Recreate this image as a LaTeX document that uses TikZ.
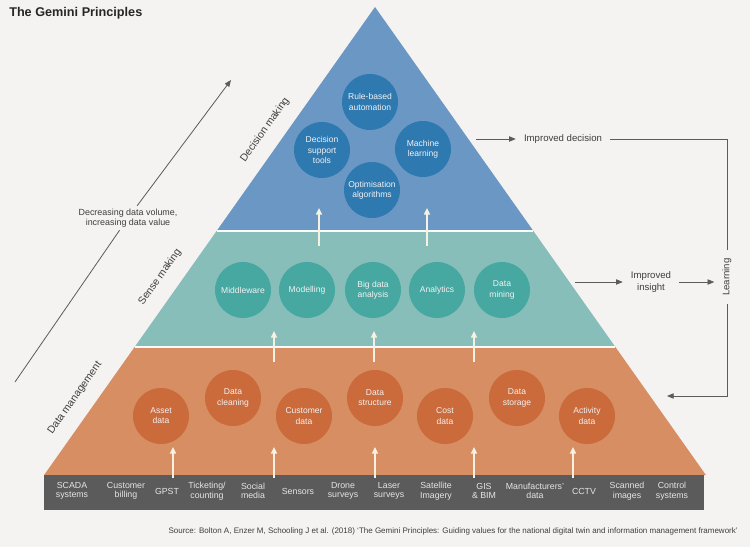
\documentclass[tikz,border=0pt]{standalone}
\usepackage{fontspec}
\setmainfont{Liberation Sans}
\usetikzlibrary{arrows.meta}

\definecolor{sfondo}{HTML}{F4F3F1}
\definecolor{blu}{HTML}{6B97C5}
\definecolor{bluscuro}{HTML}{2F79B1}
\definecolor{verde}{HTML}{88BEB9}
\definecolor{verdescuro}{HTML}{47A8A2}
\definecolor{arancio}{HTML}{D88E63}
\definecolor{aranciosc}{HTML}{CB6A3B}
\definecolor{barra}{HTML}{5B5B5B}
\definecolor{crema}{HTML}{F6F1E1}
\definecolor{testo}{HTML}{3E3E3E}

\begin{document}
\begin{tikzpicture}[x=0.75pt,y=-0.75pt,
        cerchio/.style={circle, minimum size=42pt, inner sep=0pt, align=center, text=white!95!black, font=\fontsize{6.4}{7.6}\selectfont},
        voce/.style={align=center, text=white!90!black, font=\fontsize{6.6}{7.2}\selectfont},
        freccia/.style={-{Triangle[length=5pt,width=4.5pt]}, draw=crema, line width=1.1pt},
        linea/.style={draw=testo!85, line width=0.6pt},
        punta/.style={-{Triangle[length=5pt,width=4pt]}},
        etichetta/.style={font=\fontsize{7.2}{8.4}\selectfont, text=testo, align=center, inner xsep=6pt, inner ysep=2pt},
        strato/.style={font=\fontsize{7.8}{9}\selectfont, text=testo, rotate=54.7}]

         % Sfondo e piramide
        \fill[sfondo] (0,0) rectangle (750,547);
        \useasboundingbox (0,0) rectangle (750,547);
        \fill[blu] (375,7) -- (533.4,231) -- (216.6,231) -- cycle;
        \fill[verde] (216.6,231) -- (533.4,231) -- (615.4,347) -- (134.6,347) -- cycle;
        \fill[arancio] (134.6,347) -- (615.4,347) -- (705.9,475) -- (44.1,475) -- cycle;
        \draw[white!70!sfondo, line width=0.8pt] (216.6,231) -- (533.4,231);
        \draw[white!70!sfondo, line width=0.8pt] (134.6,347) -- (615.4,347);
        \fill[barra] (44,475) rectangle (704,510);

         % Titolo e fonte
        \node[anchor=west, inner sep=0pt, text=black!85, font=\bfseries\fontsize{9.5}{11}\selectfont] (titolo) at (9,13) {The Gemini Principles};
        \node[anchor=east, inner sep=0pt, text=testo, font=\fontsize{6}{7}\selectfont] (fonte) at (738,531) {Source: Bolton A, Enzer M, Schooling J et al. (2018) ‘The Gemini Principles: Guiding values for the national digital twin and information management framework’};

         % Cerchi: decisioni
        \node[cerchio, fill=bluscuro] (regole) at (370,102) {Rule-based\\automation};
        \node[cerchio, fill=bluscuro] (supporto) at (322,150) {Decision\\support\\tools};
        \node[cerchio, fill=bluscuro] (machine) at (423,149) {Machine\\learning};
        \node[cerchio, fill=bluscuro] (ottimizza) at (372,190) {Optimisation\\algorithms};

         % Cerchi: senso
        \foreach \x/\t [count=\i] in {243/Middleware, 307/Modelling, 373/{Big data\\analysis}, 437/Analytics, 502/{Data\\mining}}
            \node[cerchio, fill=verdescuro] (senso\i) at (\x,290) {\t};

         % Cerchi: gestione dati
        \foreach \x/\y/\t [count=\i] in {161/416/{Asset\\data}, 233/398/{Data\\cleaning}, 304/416/{Customer\\data}, 375/398/{Data\\structure}, 445/416/{Cost\\data}, 517/398/{Data\\storage}, 587/416/{Activity\\data}}
            \node[cerchio, fill=aranciosc] (dati\i) at (\x,\y) {\t};

         % Sorgenti nella barra
        \foreach \x/\t [count=\i] in {72/{SCADA\\systems}, 126/{Customer\\billing}, 167/GPST, 207/{Ticketing/\\counting}, 253/{Social\\media}, 298/Sensors, 343/{Drone\\surveys}, 389/{Laser\\surveys}, 436/{Satellite\\Imagery}, 484/{GIS\\\& BIM}, 535/{Manufacturers'\\data}, 584/CCTV, 627/{Scanned\\images}, 672/{Control\\systems}}
            \node[voce] (fonte\i) at (\x,491) {\t};

         % Frecce tra gli strati
        \foreach \x [count=\i] in {173,274,375,474,573} {
            \coordinate (b\i) at (\x,478);
            \coordinate (c\i) at (\x,447);
            \draw[freccia] (b\i) -- (c\i);
        }
        \foreach \x [count=\i] in {274,374,474} {
            \coordinate (d\i) at (\x,362);
            \coordinate (e\i) at (\x,331);
            \draw[freccia] (d\i) -- (e\i);
        }
        \foreach \x [count=\i] in {319,427} {
            \coordinate (f\i) at (\x,246);
            \coordinate (g\i) at (\x,208);
            \draw[freccia] (f\i) -- (g\i);
        }

         % Etichette degli strati
        \node[strato] (decisione) at (265,130) {Decision making};
        \node[strato] (senso) at (160,277) {Sense making};
        \node[strato] (gestione) at (75,398) {Data management};

         % Freccia a sinistra
        \coordinate (basso) at (15,382);
        \coordinate (alto) at (231,80);
        \node[etichetta, inner xsep=2pt, font=\fontsize{6.7}{7.6}\selectfont] (valore) at (128,218) {Decreasing data volume,\\increasing data value};
        \draw[linea] (basso) -- (valore);
        \draw[linea, punta] (valore) -- (alto);

         % Ciclo a destra
        \coordinate (uscita1) at (476,139);
        \coordinate (uscita2) at (575,282);
        \coordinate (angolo1) at (727,139);
        \coordinate (angolo2) at (727,396);
        \coordinate (ritorno) at (667,396);
        \node[etichetta] (migliore) at (563,139) {Improved decision};
        \node[etichetta] (intuito) at (651,282) {Improved\\insight};
        \node[etichetta, rotate=90] (impara) at (727,277) {Learning};
        \draw[linea, punta] (uscita1) -- (migliore);
        \draw[linea, punta] (uscita2) -- (intuito);
        \draw[linea, punta, shorten >=4pt] (intuito.east) -- (intuito.east -| impara.north);
        \draw[linea] (migliore) -- (angolo1) -- (impara);
        \draw[linea, punta] (impara) -- (angolo2) -- (ritorno);
    \end{tikzpicture}
\end{document}
